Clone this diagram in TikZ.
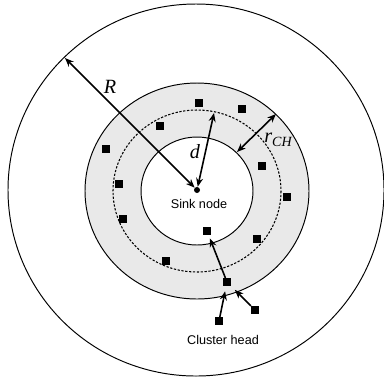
\documentclass[tikz,border=0pt]{standalone}
\usepackage{fontspec}
\setmainfont{Liberation Sans}
\newfontfamily\timesfont{Liberation Serif}
\usetikzlibrary{arrows.meta, positioning}

\begin{document}
\begin{tikzpicture}[x=0.02cm, y=-0.02cm,
    ring/.style={draw=black, line width=0.55pt},
    sensor/.style={rectangle, fill=black, inner sep=0pt, minimum size=0.15cm},
    arrow/.style={-{Stealth[length=5pt, width=4pt]}, line width=0.9pt},
    dblarrow/.style={{Stealth[length=5pt, width=4pt]}-{Stealth[length=5pt, width=4pt]}, line width=0.9pt},
    txt/.style={inner sep=0pt, font=\fontsize{7.2}{8}\selectfont},
    sym/.style={inner sep=0pt, font=\timesfont\itshape\fontsize{11.5}{13}\selectfont}]

    \useasboundingbox (0,0) rectangle (384,380);

    % network field and cluster-head ring
    \draw[ring] (196,190) ellipse [x radius=188, y radius=186];
    \fill[gray!17] (197,191) ellipse [x radius=112, y radius=108];
    \draw[ring] (197,191) ellipse [x radius=112, y radius=108];
    \fill[white] (197,191) ellipse [x radius=56, y radius=54];
    \draw[ring] (197,191) ellipse [x radius=56, y radius=54];
    \draw[line width=0.6pt, dash pattern=on 1.3pt off 0.9pt] (197,191) ellipse [x radius=84, y radius=81];

    % sink
    \node[circle, fill=black, inner sep=0pt, minimum size=0.12cm] (sink) at (197,190) {};
    \node[txt] (sinklbl) at (199,204) {Sink node};

    % sensor nodes
    \node[sensor] (s1) at (199,103) {};
    \node[sensor] (s2) at (242,109) {};
    \node[sensor] (s3) at (160,126) {};
    \node[sensor] (s4) at (106,149) {};
    \node[sensor] (s5) at (262,166) {};
    \node[sensor] (s6) at (119,184) {};
    \node[sensor] (s7) at (287,197) {};
    \node[sensor] (s8) at (123,219) {};
    \node[sensor] (s9) at (207,231) {};
    \node[sensor] (s10) at (257,239) {};
    \node[sensor] (s11) at (166,261) {};
    \node[sensor] (ch) at (227,282) {};
    \node[sensor] (s13) at (255,310) {};
    \node[sensor] (s14) at (219,321) {};
    \node[txt] (chlbl) at (223,340) {Cluster head};

    % radii
    \coordinate (rim) at (65,58);
    \coordinate (dtop) at (214,113);
    \coordinate (rin) at (237,152);
    \coordinate (rout) at (276,114);
    \draw[dblarrow] (rim) -- (sink);
    \draw[dblarrow] (sink) -- (dtop);
    \draw[dblarrow] (rin) -- (rout);
    \node[sym] (Rlbl) at (110,87) {R};
    \node[sym] (dlbl) at (195,152) {d};
    \node[sym] (rchlbl) at (278,140) {r\raisebox{-0.45ex}{\fontsize{8}{9}\selectfont CH}};

    % data flow to cluster head
    \draw[arrow, shorten >=2pt] (ch) -- (s9);
    \draw[arrow, shorten >=3pt] (s14) -- (ch);
    \draw[arrow, shorten >=3pt] (s13) -- (ch);
\end{tikzpicture}
\end{document}
